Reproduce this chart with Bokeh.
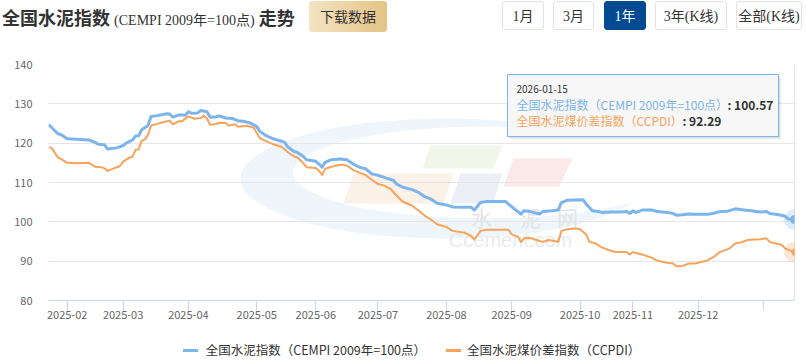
from bokeh.plotting import figure
from bokeh.models import Range1d, FixedTicker, Span, Div
from bokeh.layouts import column
from bokeh.core.properties import value
from bokeh.embed import file_html
from bokeh.resources import INLINE

# ---------------- data ----------------
n_days = 241                      # trading days shown (1 year)
tick_idx = [6, 24, 45, 67, 86, 106, 128, 149, 171, 188, 209, 230]
tick_labels = ["2025-02", "2025-03", "2025-04", "2025-05", "2025-06", "2025-07",
               "2025-08", "2025-09", "2025-10", "2025-11", "2025-12", ""]
y_ticks = [80, 90, 100, 110, 120, 130, 140]
series_names = ["全国水泥指数（CEMPI 2009年=100点）", "全国水泥煤价差指数（CCPDI）"]
last_date = "2026-01-15"

cempi_idx = [0, 1, 3, 4, 6, 9, 13, 15, 16, 18, 19, 22, 24, 25, 27, 28, 29, 30, 32, 33,
             35, 38, 39, 40, 42, 44, 45, 46, 48, 49, 51, 52, 54, 55, 57, 59, 61, 63, 65, 67,
             68, 70, 72, 75, 76, 77, 79, 80, 82, 83, 86, 87, 88, 89, 91, 94, 96, 98, 100, 102,
             104, 106, 108, 111, 112, 114, 117, 119, 121, 123, 125, 128, 130, 134, 136, 137, 139, 141, 147, 148,
             150, 152, 153, 155, 158, 159, 162, 164, 165, 167, 172, 173, 175, 177, 178, 181, 184, 186, 187, 188,
             189, 191, 194, 196, 199, 201, 202, 204, 206, 208, 212, 214, 216, 218, 221, 223, 226, 229, 231, 232,
             235, 237, 238, 240]
cempi = [124.7, 124.0, 122.4, 122.2, 121.1, 121.0, 120.8, 120.2, 119.7, 119.6, 118.5, 118.8, 119.4, 120.0, 120.8, 121.8, 121.9, 123.4, 124.5, 126.8,
         127.0, 127.5, 127.4, 126.6, 127.2, 127.1, 128.0, 127.6, 127.7, 128.3, 128.0, 126.6, 126.7, 126.9, 126.4, 126.3, 125.7, 125.5, 125.1, 124.2,
         123.0, 121.9, 121.2, 120.5, 120.2, 119.0, 117.9, 117.7, 116.6, 115.8, 115.4, 114.7, 113.9, 115.1, 115.8, 116.0, 115.8, 114.7, 113.9, 113.5,
         112.2, 111.8, 111.3, 110.5, 109.6, 108.8, 108.2, 107.5, 106.4, 105.8, 104.7, 104.3, 103.8, 103.7, 103.7, 103.0, 104.9, 105.2, 105.2, 104.5,
         103.2, 102.0, 102.8, 102.6, 102.0, 102.6, 102.8, 103.0, 104.9, 105.5, 105.6, 104.5, 102.8, 102.6, 102.4, 102.5, 102.5, 102.6, 102.1, 102.8,
         102.4, 103.0, 103.0, 102.6, 102.4, 102.1, 101.7, 101.8, 102.0, 101.9, 101.9, 102.2, 102.6, 102.6, 103.3, 103.1, 102.8, 102.5, 102.6, 102.1,
         101.8, 101.4, 100.7, 100.57]

ccpdi_idx = [0, 1, 3, 4, 6, 9, 13, 15, 17, 18, 19, 21, 23, 24, 26, 27, 28, 29, 30, 31,
             32, 33, 35, 37, 39, 40, 42, 43, 45, 47, 49, 50, 51, 52, 54, 55, 57, 58, 60, 61,
             64, 66, 68, 70, 72, 75, 77, 79, 80, 82, 83, 86, 87, 88, 89, 91, 94, 96, 98, 100,
             102, 104, 106, 108, 110, 112, 114, 117, 119, 121, 123, 125, 128, 130, 134, 136, 137, 139, 141, 148,
             149, 151, 152, 153, 155, 157, 159, 161, 164, 165, 167, 170, 171, 173, 174, 176, 178, 180, 182, 184,
             186, 187, 188, 190, 191, 194, 196, 199, 201, 202, 204, 206, 208, 210, 212, 214, 216, 219, 221, 223,
             225, 227, 229, 231, 232, 234, 236, 237, 239, 240]
ccpdi = [119.0, 118.8, 116.4, 116.0, 115.0, 114.9, 115.0, 114.0, 113.9, 113.6, 112.95, 113.6, 114.2, 115.3, 116.3, 116.5, 118.3, 118.4, 120.7, 120.9,
         122.1, 124.5, 124.9, 125.4, 125.7, 124.8, 125.6, 125.6, 126.8, 126.2, 126.4, 127.0, 126.2, 124.7, 124.9, 125.2, 125.1, 124.5, 124.8, 124.2,
         124.4, 123.9, 121.3, 120.5, 119.8, 119.1, 117.7, 116.6, 116.4, 114.9, 113.9, 113.7, 113.0, 111.9, 113.5, 114.0, 114.5, 114.3, 113.2, 112.5,
         111.9, 110.7, 109.6, 109.2, 108.4, 106.7, 105.1, 104.1, 102.9, 101.6, 100.6, 99.4, 98.7, 97.7, 97.2, 96.4, 95.5, 97.7, 98.0, 98.0,
         96.8, 96.2, 94.9, 95.8, 95.9, 95.4, 94.9, 95.4, 94.9, 97.7, 98.1, 98.3, 98.1, 96.8, 94.9, 94.5, 93.5, 92.9, 92.4, 92.3,
         92.3, 91.7, 92.3, 91.9, 91.7, 90.9, 90.1, 89.6, 89.4, 88.7, 88.8, 89.4, 89.4, 89.8, 90.2, 91.1, 92.3, 93.2, 94.5, 94.8,
         95.4, 95.5, 95.6, 95.8, 94.9, 94.5, 94.1, 93.2, 92.6, 92.29]

range_buttons = ["1月", "3月", "1年", "3年(K线)", "全部(K线)"]
active_button = "1年"

# ---------------- styles ----------------
BLUE = "#7cb5ec"
ORANGE = "#f7a35c"
FONT = "Noto Sans CJK SC"
W = 807

# ---------------- header (HTML) ----------------
btn_left = [502, 553, 604, 655, 736]
btn_width = [44, 43, 44, 74, 68]
buttons_html = ""
for lab, lx, w in zip(range_buttons, btn_left, btn_width):
    active = lab == active_button
    bg = "#004a92" if active else "#ffffff"
    fg = "#ffffff" if active else "#333333"
    bd = "#004a92" if active else "#e3e3e3"
    buttons_html += (
        f'<div style="position:absolute;left:{lx}px;top:1px;width:{w-2}px;height:29px;'
        f'line-height:29px;border:1px solid {bd};border-radius:3px;background:{bg};color:{fg};'
        f"text-align:center;font-size:14px;font-family:'Liberation Serif','{FONT}',serif;"
        f'white-space:nowrap;">{lab}</div>'
    )

header_html = (
    f'<div style="position:relative;width:{W}px;height:32px;">'
    f"<div style=\"position:absolute;left:2px;top:0px;height:35px;line-height:35px;white-space:nowrap;"
    f"font-family:'{FONT}',sans-serif;font-size:18px;font-weight:bold;color:#333;\">全国水泥指数 "
    f"<span style=\"font-family:'Liberation Serif','{FONT}',serif;font-size:14px;font-weight:normal;\">(CEMPI 2009年=100点)</span>"
    " 走势</div>"
    '<div style="position:absolute;left:309px;top:1px;width:78px;height:31px;line-height:31px;'
    'border-radius:3px;background:linear-gradient(to right,#f4e4c4,#e4c384);color:#333;'
    f"font-family:'{FONT}',sans-serif;font-size:14px;text-align:center;\">下载数据</div>"
    + buttons_html +
    '</div>'
)
header = Div(text=header_html, width=W, height=32, margin=0)

# ---------------- chart ----------------
p = figure(width=W, height=304, x_range=Range1d(0, n_days - 1), y_range=Range1d(80, 140),
           output_backend="svg", toolbar_location=None, margin=0,
           min_border_left=48, min_border_right=13, min_border_top=32, min_border_bottom=36)
p.outline_line_color = None
p.background_fill_color = "white"
p.border_fill_color = "white"

# pixel-space ranges for decorations (watermark, tooltip)
p.extra_x_ranges = {"px": Range1d(48, 794)}
p.extra_y_ranges = {"px": Range1d(300, 64)}

p.xgrid.grid_line_color = None
p.ygrid.ticker = FixedTicker(ticks=y_ticks)
p.ygrid.grid_line_color = "#e6e6e6"

p.yaxis.ticker = FixedTicker(ticks=y_ticks)
p.yaxis.axis_line_color = None
p.yaxis.major_tick_line_color = None
p.yaxis.minor_tick_line_color = None
p.yaxis.major_tick_out = 0
p.yaxis.major_tick_in = 0
p.yaxis.major_label_standoff = 16
p.yaxis.major_label_text_font = FONT
p.yaxis.major_label_text_font_size = "11px"
p.yaxis.major_label_text_color = "#666666"

p.xaxis.ticker = FixedTicker(ticks=tick_idx)
p.xaxis.major_label_overrides = {i: l for i, l in zip(tick_idx, tick_labels)}
p.xaxis.axis_line_color = "#ccd6eb"
p.xaxis.major_tick_line_color = "#ccd6eb"
p.xaxis.minor_tick_line_color = None
p.xaxis.major_tick_out = 10
p.xaxis.major_tick_in = 0
p.xaxis.major_label_standoff = 0
p.xaxis.major_label_text_font = FONT
p.xaxis.major_label_text_font_size = "11px"
p.xaxis.major_label_text_color = "#666666"

# watermark (faint logo behind the series)
wm = dict(x_range_name="px", y_range_name="px", level="image")
p.ellipse(x=[445], y=[178], width=410, height=120, fill_color="#eef5fb", line_color=None, **wm)
p.ellipse(x=[485], y=[172], width=385, height=92, fill_color="#ffffff", line_color=None, **wm)
p.patch(x=[430, 502, 493, 422], y=[145, 145, 168, 168], fill_color="#f2f6ea", line_color=None, **wm)
p.patch(x=[353, 453, 443, 343], y=[173, 173, 203, 203], fill_color="#fcf1e7", line_color=None, **wm)
p.patch(x=[460, 502, 492, 450], y=[173, 173, 203, 203], fill_color="#eceff6", line_color=None, **wm)
p.patch(x=[513, 572, 559, 503], y=[158, 158, 186, 186], fill_color="#fbe8e8", line_color=None, **wm)
p.text(x=[481, 530, 567], y=[216, 216, 216], text=["水", "泥", "网"], text_font=value(FONT),
       text_font_size="21px", text_color="#e4e4e4", text_align="center", text_baseline="middle", **wm)
p.text(x=[510], y=[239], text=["Ccement.com"], text_font=value("Liberation Sans"),
       text_font_size="20px", text_color="#ebebeb", text_align="center", text_baseline="middle", **wm)

# crosshair at hovered (last) point
p.add_layout(Span(location=cempi_idx[-1], dimension="height", line_color="#cccccc",
                  line_width=1, level="underlay"))

# series
r1 = p.line(cempi_idx, cempi, line_color=BLUE, line_width=3, line_join="round")
r2 = p.line(ccpdi_idx, ccpdi, line_color=ORANGE, line_width=2, line_join="round")

# hover markers on last point
p.scatter([cempi_idx[-1]], [cempi[-1]], size=21, fill_color=BLUE, fill_alpha=0.25, line_color=None)
p.scatter([cempi_idx[-1]], [cempi[-1]], size=8, fill_color=BLUE, line_color=BLUE)
p.scatter([ccpdi_idx[-1]], [ccpdi[-1]], size=21, fill_color=ORANGE, fill_alpha=0.25, line_color=None)
p.scatter([ccpdi_idx[-1]], [ccpdi[-1]], marker="diamond", size=9, fill_color=ORANGE, line_color=ORANGE)

# tooltip box
tt = dict(x_range_name="px", y_range_name="px", level="overlay")
for k, a in [(3, 0.04), (2, 0.06), (1, 0.08)]:
    p.quad(left=[507 + k], right=[778 + k], top=[74 + k], bottom=[136 + k],
           fill_color="black", fill_alpha=a, line_color=None, **tt)
p.quad(left=[507], right=[778], top=[74], bottom=[136], fill_color="#f7f7f7", fill_alpha=1.0,
       line_color=BLUE, line_width=1, **tt)
p.text(x=[516], y=[88], text=[last_date], text_font=value(FONT), text_font_size="10px",
       text_color="#333333", text_baseline="middle", **tt)
p.text(x=[516, 516], y=[103.5, 119.5], text=series_names, text_font=value(FONT),
       text_font_size="12px", text_color=[BLUE, ORANGE], text_baseline="middle", **tt)
p.text(x=[727, 682], y=[103.5, 119.5],
       text=[f": {cempi[-1]:.2f}", f": {ccpdi[-1]:.2f}"], text_font=value(FONT),
       text_font_size="12px", text_font_style="bold", text_color="#333333",
       text_baseline="middle", **tt)

# ---------------- legend (below the chart) ----------------
legend_html = (
    f'<div style="position:relative;top:2px;width:{W}px;height:24px;box-sizing:border-box;'
    f"padding-left:16px;display:flex;justify-content:center;align-items:center;"
    f"font-family:'{FONT}',sans-serif;font-size:12.5px;color:#333;white-space:nowrap;\">"
    f'<span style="display:inline-block;width:15px;height:3px;background:{BLUE};margin-right:8px;"></span>'
    f'<span>{series_names[0]}</span>'
    f'<span style="display:inline-block;width:15px;height:3px;background:{ORANGE};margin:0 6px 0 20px;"></span>'
    f'<span>{series_names[1]}</span>'
    '</div>'
)
legend_div = Div(text=legend_html, width=W, height=24, margin=0)

layout = column(header, p, legend_div, margin=0)
open("out.html", "w").write(file_html(layout, INLINE))
